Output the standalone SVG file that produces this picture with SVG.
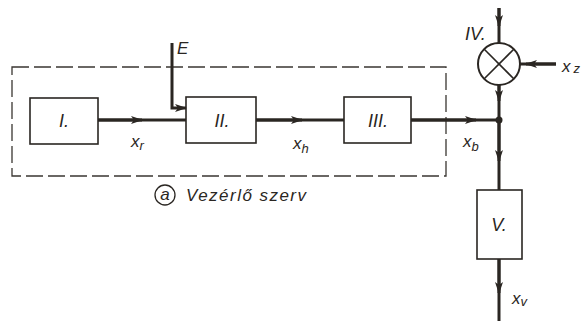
<svg xmlns="http://www.w3.org/2000/svg" width="586" height="321" viewBox="0 0 586 321">
<style>
.box{fill:none;stroke:#2a2622;stroke-width:1.6}
.ln{fill:none;stroke:#2a2622;stroke-width:3}
.dash{fill:none;stroke:#3a3632;stroke-width:1.3;stroke-dasharray:17 5}
.t{font-family:"Liberation Sans",Arial,sans-serif;font-style:italic;fill:#2a2622}
.lab{font-size:17px}
.big{font-size:18px}
.sub{font-size:13px}
</style>
<defs>
<marker id="ah" viewBox="0 0 12 10" refX="11" refY="5" markerWidth="12" markerHeight="10" markerUnits="userSpaceOnUse" orient="auto">
<path d="M0,1 L12,5 L0,9 L3,5 Z" fill="#2a2622"/>
</marker>
</defs>
<rect width="586" height="321" fill="#ffffff"/>
<rect class="dash" x="12" y="67" width="434" height="109"/>
<g id="connectors">
<line class="ln" x1="98" y1="120" x2="186" y2="120"/>
<line class="ln" x1="98" y1="120" x2="142" y2="120" marker-end="url(#ah)"/>
<polyline class="ln" points="172,43 172,108 186,108" marker-end="url(#ah)"/>
<line class="ln" x1="256" y1="120" x2="344" y2="120"/>
<line class="ln" x1="256" y1="120" x2="302" y2="120" marker-end="url(#ah)"/>
<line class="ln" x1="411" y1="120" x2="499" y2="120"/>
<line class="ln" x1="411" y1="120" x2="476" y2="120" marker-end="url(#ah)"/>
<line class="ln" x1="499" y1="8" x2="499" y2="43"/>
<line class="ln" x1="499" y1="8" x2="499" y2="26" marker-end="url(#ah)"/>
<line class="ln" x1="556" y1="64" x2="520" y2="64"/>
<line class="ln" x1="556" y1="64" x2="526" y2="64" marker-end="url(#ah)"/>
<line class="ln" x1="499" y1="85" x2="499" y2="120"/>
<line class="ln" x1="499" y1="85" x2="499" y2="101" marker-end="url(#ah)"/>
<line class="ln" x1="499" y1="120" x2="499" y2="190"/>
<line class="ln" x1="499" y1="120" x2="499" y2="161" marker-end="url(#ah)"/>
<line class="ln" x1="499" y1="259" x2="499" y2="321"/>
<line class="ln" x1="499" y1="259" x2="499" y2="293" marker-end="url(#ah)"/>
<circle cx="499" cy="120" r="3.5" fill="#2a2622"/>
</g>
<g id="n1"><rect class="box" x="30" y="98" width="68" height="46"/><text class="t big" x="64" y="127" text-anchor="middle">I.</text></g>
<g id="n2"><rect class="box" x="186" y="97" width="70" height="46"/><text class="t big" x="222" y="127" text-anchor="middle">II.</text></g>
<g id="n3"><rect class="box" x="344" y="97" width="67" height="46"/><text class="t big" x="378" y="127" text-anchor="middle">III.</text></g>
<g id="n4"><circle cx="499" cy="64" r="21" fill="#fff" stroke="#2a2622" stroke-width="2"/>
<line x1="484" y1="49" x2="514" y2="79" stroke="#2a2622" stroke-width="1.6"/>
<line x1="514" y1="49" x2="484" y2="79" stroke="#2a2622" stroke-width="1.6"/>
<text class="t big" x="465" y="40">IV.</text></g>
<g id="n5"><rect class="box" x="477" y="190" width="45" height="69"/><text class="t big" x="499" y="231" text-anchor="middle">V.</text></g>
<g id="labels">
<text class="t lab" x="177" y="54">E</text>
<text class="t lab" x="131" y="147">x<tspan class="sub" dy="3">r</tspan></text>
<text class="t lab" x="293" y="149">x<tspan class="sub" dy="4">h</tspan></text>
<text class="t lab" x="463" y="147">x<tspan class="sub" dy="4">b</tspan></text>
<text class="t lab" x="562" y="72">x<tspan class="sub" dy="1" dx="3">z</tspan></text>
<text class="t lab" x="512" y="304">x<tspan class="sub" dy="2">v</tspan></text>
<circle cx="165" cy="195" r="10" fill="none" stroke="#2a2622" stroke-width="1.3"/>
<text class="t lab" x="165" y="200" text-anchor="middle">a</text>
<text class="t lab" x="186" y="201" textLength="120" lengthAdjust="spacing">Vezérlő szerv</text>
</g>
</svg>
